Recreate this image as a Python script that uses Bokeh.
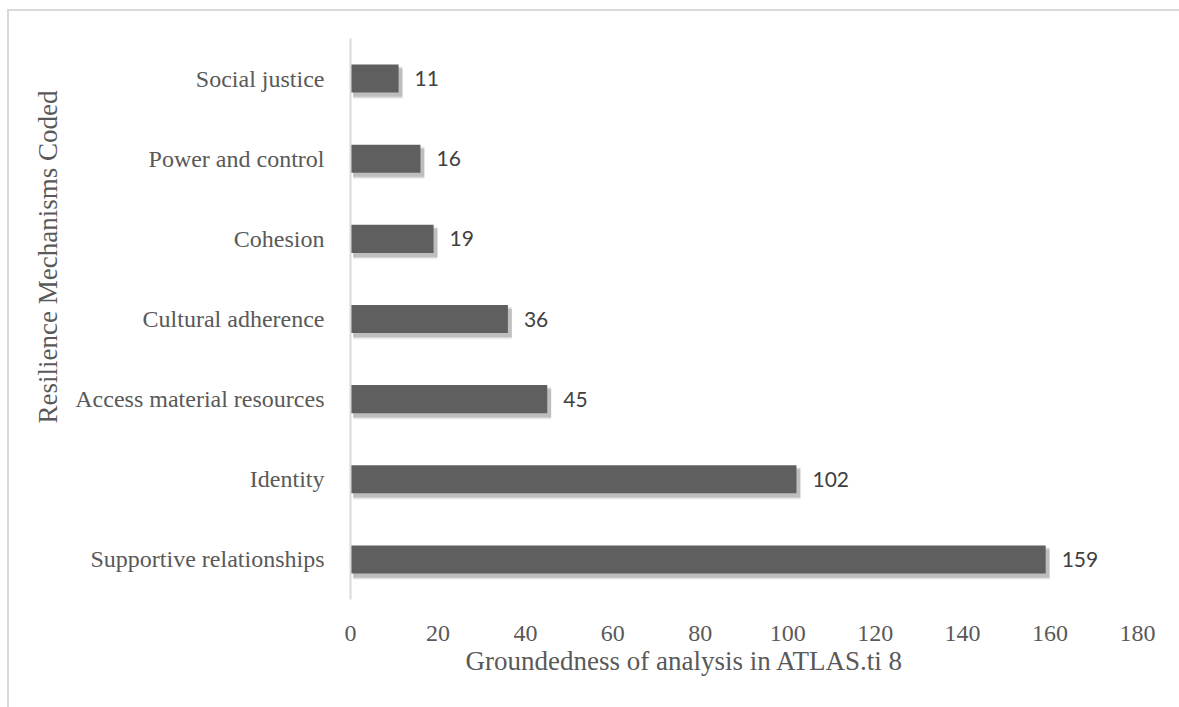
from bokeh.plotting import figure
from bokeh.models import FactorRange, Range1d, FixedTicker, ColumnDataSource, Title, InlineStyleSheet
from bokeh.transform import dodge
from bokeh.core.properties import value
from bokeh.embed import file_html
from bokeh.resources import INLINE

# ---- data ----
categories = ["Social justice", "Power and control", "Cohesion", "Cultural adherence",
              "Access material resources", "Identity", "Supportive relationships"]
counts = [11, 16, 19, 36, 45, 102, 159]
x_ticks = [0, 20, 40, 60, 80, 100, 120, 140, 160, 180]
x_title = "Groundedness of analysis in ATLAS.ti 8"
y_title = "Resilience Mechanisms Coded"

src = ColumnDataSource(dict(cat=categories, val=counts,
                            lab=[str(c) for c in counts],
                            sh_right=[c + 0.9 for c in counts]))

p = figure(width=1179, height=707, output_backend="svg", toolbar_location=None,
           y_range=FactorRange(factors=list(reversed(categories)), range_padding=0),
           x_range=Range1d(0, 180),
           min_border_left=350, min_border_right=42, min_border_top=38, min_border_bottom=108)

p.background_fill_color = "white"
p.border_fill_color = None
p.outline_line_color = None
p.xgrid.grid_line_color = None
p.ygrid.grid_line_color = None

# outer chart-area border (top and left edges visible; cropped right/bottom)
p.stylesheets = [InlineStyleSheet(css=(
    ":host { background: "
    "linear-gradient(#d9d9d9,#d9d9d9) 7px 9px / 2px 100% no-repeat, "
    "linear-gradient(#d9d9d9,#d9d9d9) 7px 9px / 100% 2px no-repeat, "
    "#ffffff; }"))]

# shadow layers
for k, a in enumerate([0.10, 0.08, 0.06, 0.04]):
    p.hbar(y=dodge("cat", -0.05, range=p.y_range), left=0.6, right="sh_right",
           height=0.35 + 0.02 * k, source=src, fill_color="#000000",
           fill_alpha=a, line_color=None)

p.hbar(y="cat", left=0, right="val", height=0.35, source=src,
       fill_color="#5f5f5f", line_color=None)

p.text(x="val", y="cat", text="lab", source=src, x_offset=16,
       text_font=value("Lato"), text_font_size="21px", text_color="#404040",
       text_baseline="middle", text_align="left")

# axes
p.xaxis.ticker = FixedTicker(ticks=x_ticks)
p.xaxis.axis_line_color = None
p.xaxis.major_tick_line_color = None
p.xaxis.minor_tick_line_color = None
p.xaxis.major_label_text_font = "Liberation Serif"
p.xaxis.major_label_text_font_size = "24px"
p.xaxis.major_label_text_color = "#595959"
p.xaxis.major_label_standoff = 20

p.yaxis.axis_line_color = "#d9d9d9"
p.yaxis.axis_line_width = 2
p.yaxis.major_tick_line_color = None
p.yaxis.minor_tick_line_color = None
p.yaxis.major_label_text_font = "Liberation Serif"
p.yaxis.major_label_text_font_size = "24px"
p.yaxis.major_label_text_color = "#595959"
p.yaxis.major_label_standoff = 20

# axis titles placed like the original (not centred on the plot area)
p.add_layout(Title(text=y_title, align="left", offset=176, standoff=20,
                   text_font="Liberation Serif", text_font_size="27px",
                   text_font_style="normal", text_color="#595959"), "left")
p.add_layout(Title(text=x_title, align="left", offset=115, standoff=0,
                   text_font="Liberation Serif", text_font_size="27px",
                   text_font_style="normal", text_color="#595959"), "below")

open("out.html", "w").write(file_html(p, INLINE))
